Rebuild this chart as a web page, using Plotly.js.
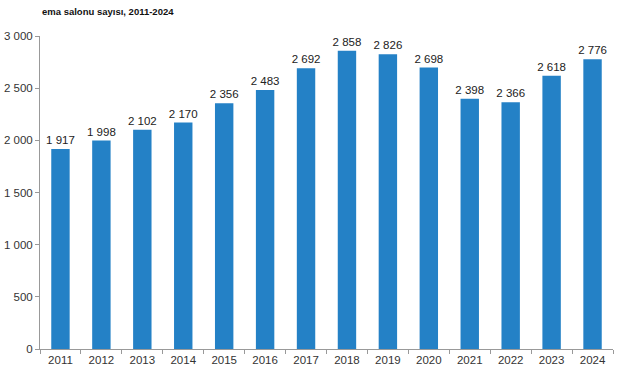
<!DOCTYPE html>
<html><head><meta charset="utf-8">
<script src="https://cdn.plot.ly/plotly-3.0.1.min.js"></script>
<style>html,body{margin:0;padding:0;background:#fff}#c{width:641px;height:380px}</style>
</head><body><div id="c"></div>
<script>
const years = ["2011","2012","2013","2014","2015","2016","2017","2018","2019","2020","2021","2022","2023","2024"];
const halls = [1917,1998,2102,2170,2356,2483,2692,2858,2826,2698,2398,2366,2618,2776];
const titleText = "ema salonu sayısı, 2011-2024";

function fmt(v){ return String(v).replace(/\B(?=(\d{3})+(?!\d))/g, " "); }

Plotly.newPlot("c", [{
  type: "bar",
  x: years,
  y: halls,
  text: halls.map(fmt),
  textposition: "outside",
  constraintext: "none",
  textfont: {family: "Liberation Sans, Arial, sans-serif", size: 11.5, color: "#222"},
  cliponaxis: false,
  marker: {color: "#2481C6"},
  hoverinfo: "none"
}], {
  width: 641, height: 380,
  margin: {l: 40, r: 28, t: 36, b: 31},
  bargap: 0.55,
  separators: ", ",
  showlegend: false,
  paper_bgcolor: "#fff", plot_bgcolor: "#fff",
  font: {family: "Liberation Sans, Arial, sans-serif", size: 11, color: "#222"},
  annotations: [{
    text: "<b>" + titleText + "</b>", xref: "paper", yref: "paper",
    x: 0, xanchor: "left", y: 1, yanchor: "bottom", yshift: 17,
    showarrow: false, font: {size: 9.5, color: "#111"}
  }],
  xaxis: {
    type: "category", showgrid: false, zeroline: false,
    showline: true, linecolor: "#999", linewidth: 1,
    ticks: "outside", tickson: "boundaries", ticklen: 4, tickcolor: "#999",
    tickfont: {size: 11.5, color: "#333"}
  },
  yaxis: {
    range: [0, 3000], dtick: 500, tick0: 0, showgrid: false, zeroline: false,
    showline: true, linecolor: "#999", linewidth: 1,
    ticks: "outside", ticklen: 4, tickcolor: "#999",
    separatethousands: true, tickformat: ",d",
    tickfont: {size: 11.5, color: "#333"}
  }
}, {staticPlot: true, displayModeBar: false});
</script></body></html>
